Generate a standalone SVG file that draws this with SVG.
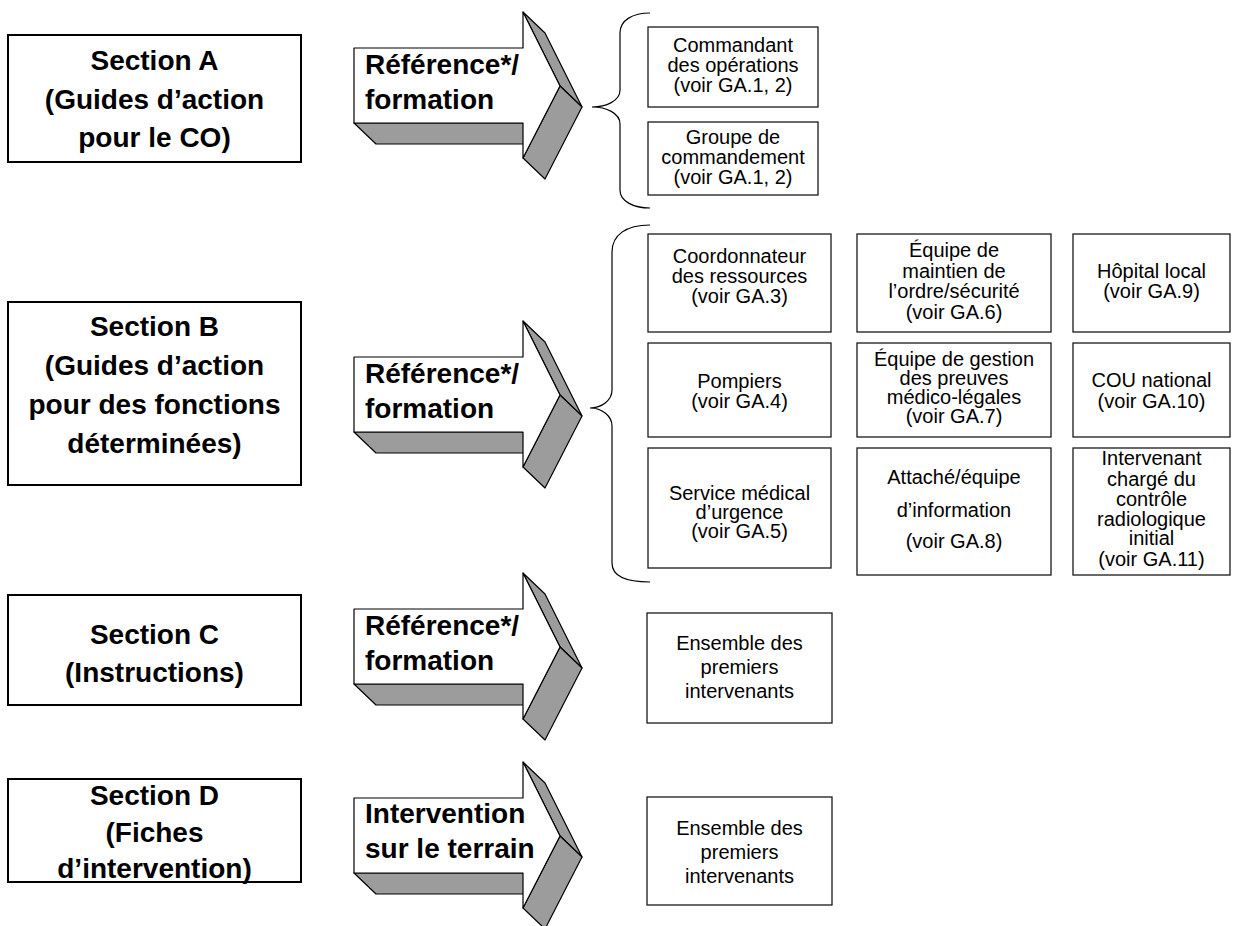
<svg xmlns="http://www.w3.org/2000/svg" xmlns:xlink="http://www.w3.org/1999/xlink" width="1233" height="926" viewBox="0 0 1233 926">
  <style>
    .sec { fill: #ffffff; stroke: #000000; stroke-width: 2; }
    .box { fill: #ffffff; stroke: #1a1a1a; stroke-width: 1.3; }
    .side { fill: #9c9c9c; stroke: #000000; stroke-width: 1.2; stroke-linejoin: round; }
    .face { fill: #ffffff; stroke: #000000; stroke-width: 1.2; stroke-linejoin: round; }
    .brace { fill: none; stroke: #000000; stroke-width: 1.2; }
    .h { font-family: "Liberation Sans", Arial, sans-serif; font-weight: bold; font-size: 28px; fill: #000; text-anchor: middle; }
    .lbl { font-family: "Liberation Sans", Arial, sans-serif; font-weight: bold; font-size: 28px; fill: #000; }
    .t { font-family: "Liberation Sans", Arial, sans-serif; font-size: 20px; fill: #000; text-anchor: middle; }
  </style>
  <defs>
    <!-- extruded block arrow, origin at the top edge of the shaft -->
    <g id="arrow3d">
      <polygon class="side" points="354,75 523,75 545,96 376,96"/>
      <polygon class="side" points="523,-36 545,-15 582,59 560,38"/>
      <polygon class="side" points="560,38 582,59 545,131 523,110"/>
      <polygon class="face" points="354,0 523,0 523,-36 560,38 523,110 523,75 354,75"/>
    </g>
  </defs>

  <rect width="1233" height="926" fill="#ffffff"/>

  <!-- arrows and braces -->
  <g id="connectors">
    <use xlink:href="#arrow3d" transform="translate(0,48)"/>
    <use xlink:href="#arrow3d" transform="translate(0,357)"/>
    <use xlink:href="#arrow3d" transform="translate(0,609)"/>
    <use xlink:href="#arrow3d" transform="translate(0,798)"/>
    <text class="lbl" x="365" y="74">Référence*/</text>
    <text class="lbl" x="365" y="109">formation</text>
    <text class="lbl" x="365" y="383">Référence*/</text>
    <text class="lbl" x="365" y="418">formation</text>
    <text class="lbl" x="365" y="635">Référence*/</text>
    <text class="lbl" x="365" y="670">formation</text>
    <text class="lbl" x="365" y="823">Intervention</text>
    <text class="lbl" x="365" y="858">sur le terrain</text>
    <path class="brace" d="M650,13 C633,13 620,20 620,33 L620,90 C620,101 606,107 592,107 C606,107 620,113 620,124 L620,190 C620,201 633,208 650,208"/>
    <path class="brace" d="M650,225 C626,225 612,235 612,252 L612,390 C612,400 602,408 590,408 C602,408 612,416 612,426 L612,563 C612,576 626,582 650,582"/>
  </g>

  <!-- section boxes -->
  <g id="section-a">
    <rect class="sec" x="8" y="35" width="293" height="127"/>
    <text class="h" x="154.5" y="70">Section A</text>
    <text class="h" x="154.5" y="109">(Guides d’action</text>
    <text class="h" x="154.5" y="147">pour le CO)</text>
  </g>
  <g id="section-b">
    <rect class="sec" x="8" y="302" width="293" height="183"/>
    <text class="h" x="154.5" y="336">Section B</text>
    <text class="h" x="154.5" y="375">(Guides d’action</text>
    <text class="h" x="154.5" y="414">pour des fonctions</text>
    <text class="h" x="154.5" y="453">déterminées)</text>
  </g>
  <g id="section-c">
    <rect class="sec" x="8" y="595" width="293" height="110"/>
    <text class="h" x="154.5" y="644">Section C</text>
    <text class="h" x="154.5" y="682">(Instructions)</text>
  </g>
  <g id="section-d">
    <rect class="sec" x="8" y="779" width="293" height="103"/>
    <text class="h" x="154.5" y="805">Section D</text>
    <text class="h" x="154.5" y="842">(Fiches</text>
    <text class="h" x="154.5" y="878">d’intervention)</text>
  </g>

  <!-- section A targets -->
  <g id="commandant">
    <rect class="box" x="648" y="27" width="170" height="80"/>
    <text class="t" x="733" y="52">Commandant</text>
    <text class="t" x="733" y="72">des opérations</text>
    <text class="t" x="733" y="92">(voir GA.1, 2)</text>
  </g>
  <g id="groupe-commandement">
    <rect class="box" x="648" y="122" width="170" height="73"/>
    <text class="t" x="733" y="144">Groupe de</text>
    <text class="t" x="733" y="164">commandement</text>
    <text class="t" x="733" y="184">(voir GA.1, 2)</text>
  </g>

  <!-- section B targets -->
  <g id="coordonnateur">
    <rect class="box" x="648" y="234" width="183" height="98"/>
    <text class="t" x="739.5" y="263">Coordonnateur</text>
    <text class="t" x="739.5" y="283">des ressources</text>
    <text class="t" x="739.5" y="303">(voir GA.3)</text>
  </g>
  <g id="pompiers">
    <rect class="box" x="648" y="343" width="183" height="94"/>
    <text class="t" x="739.5" y="388">Pompiers</text>
    <text class="t" x="739.5" y="408">(voir GA.4)</text>
  </g>
  <g id="service-medical">
    <rect class="box" x="648" y="448" width="183" height="120"/>
    <text class="t" x="739.5" y="500">Service médical</text>
    <text class="t" x="739.5" y="519">d’urgence</text>
    <text class="t" x="739.5" y="538">(voir GA.5)</text>
  </g>
  <g id="maintien-ordre">
    <rect class="box" x="857" y="234" width="194" height="98"/>
    <text class="t" x="954" y="257">Équipe de</text>
    <text class="t" x="954" y="277.5">maintien de</text>
    <text class="t" x="954" y="298">l’ordre/sécurité</text>
    <text class="t" x="954" y="318.5">(voir GA.6)</text>
  </g>
  <g id="preuves">
    <rect class="box" x="857" y="343" width="194" height="94"/>
    <text class="t" x="954" y="366">Équipe de gestion</text>
    <text class="t" x="954" y="385">des preuves</text>
    <text class="t" x="954" y="404">médico-légales</text>
    <text class="t" x="954" y="423">(voir GA.7)</text>
  </g>
  <g id="information">
    <rect class="box" x="857" y="448" width="194" height="127"/>
    <text class="t" x="954" y="484">Attaché/équipe</text>
    <text class="t" x="954" y="517">d’information</text>
    <text class="t" x="954" y="548">(voir GA.8)</text>
  </g>
  <g id="hopital">
    <rect class="box" x="1073" y="234" width="157" height="98"/>
    <text class="t" x="1151.5" y="278">Hôpital local</text>
    <text class="t" x="1151.5" y="298">(voir GA.9)</text>
  </g>
  <g id="cou-national">
    <rect class="box" x="1073" y="343" width="157" height="94"/>
    <text class="t" x="1151.5" y="387">COU national</text>
    <text class="t" x="1151.5" y="408">(voir GA.10)</text>
  </g>
  <g id="controle-radiologique">
    <rect class="box" x="1073" y="448" width="157" height="127"/>
    <text class="t" x="1151.5" y="465">Intervenant</text>
    <text class="t" x="1151.5" y="486">chargé du</text>
    <text class="t" x="1151.5" y="506">contrôle</text>
    <text class="t" x="1151.5" y="526">radiologique</text>
    <text class="t" x="1151.5" y="545">initial</text>
    <text class="t" x="1151.5" y="566">(voir GA.11)</text>
  </g>

  <!-- sections C and D targets -->
  <g id="intervenants-c">
    <rect class="box" x="647" y="613" width="185" height="110"/>
    <text class="t" x="739.5" y="650">Ensemble des</text>
    <text class="t" x="739.5" y="674">premiers</text>
    <text class="t" x="739.5" y="698">intervenants</text>
  </g>
  <g id="intervenants-d">
    <rect class="box" x="647" y="797" width="185" height="108"/>
    <text class="t" x="739.5" y="835">Ensemble des</text>
    <text class="t" x="739.5" y="859">premiers</text>
    <text class="t" x="739.5" y="883">intervenants</text>
  </g>
</svg>
